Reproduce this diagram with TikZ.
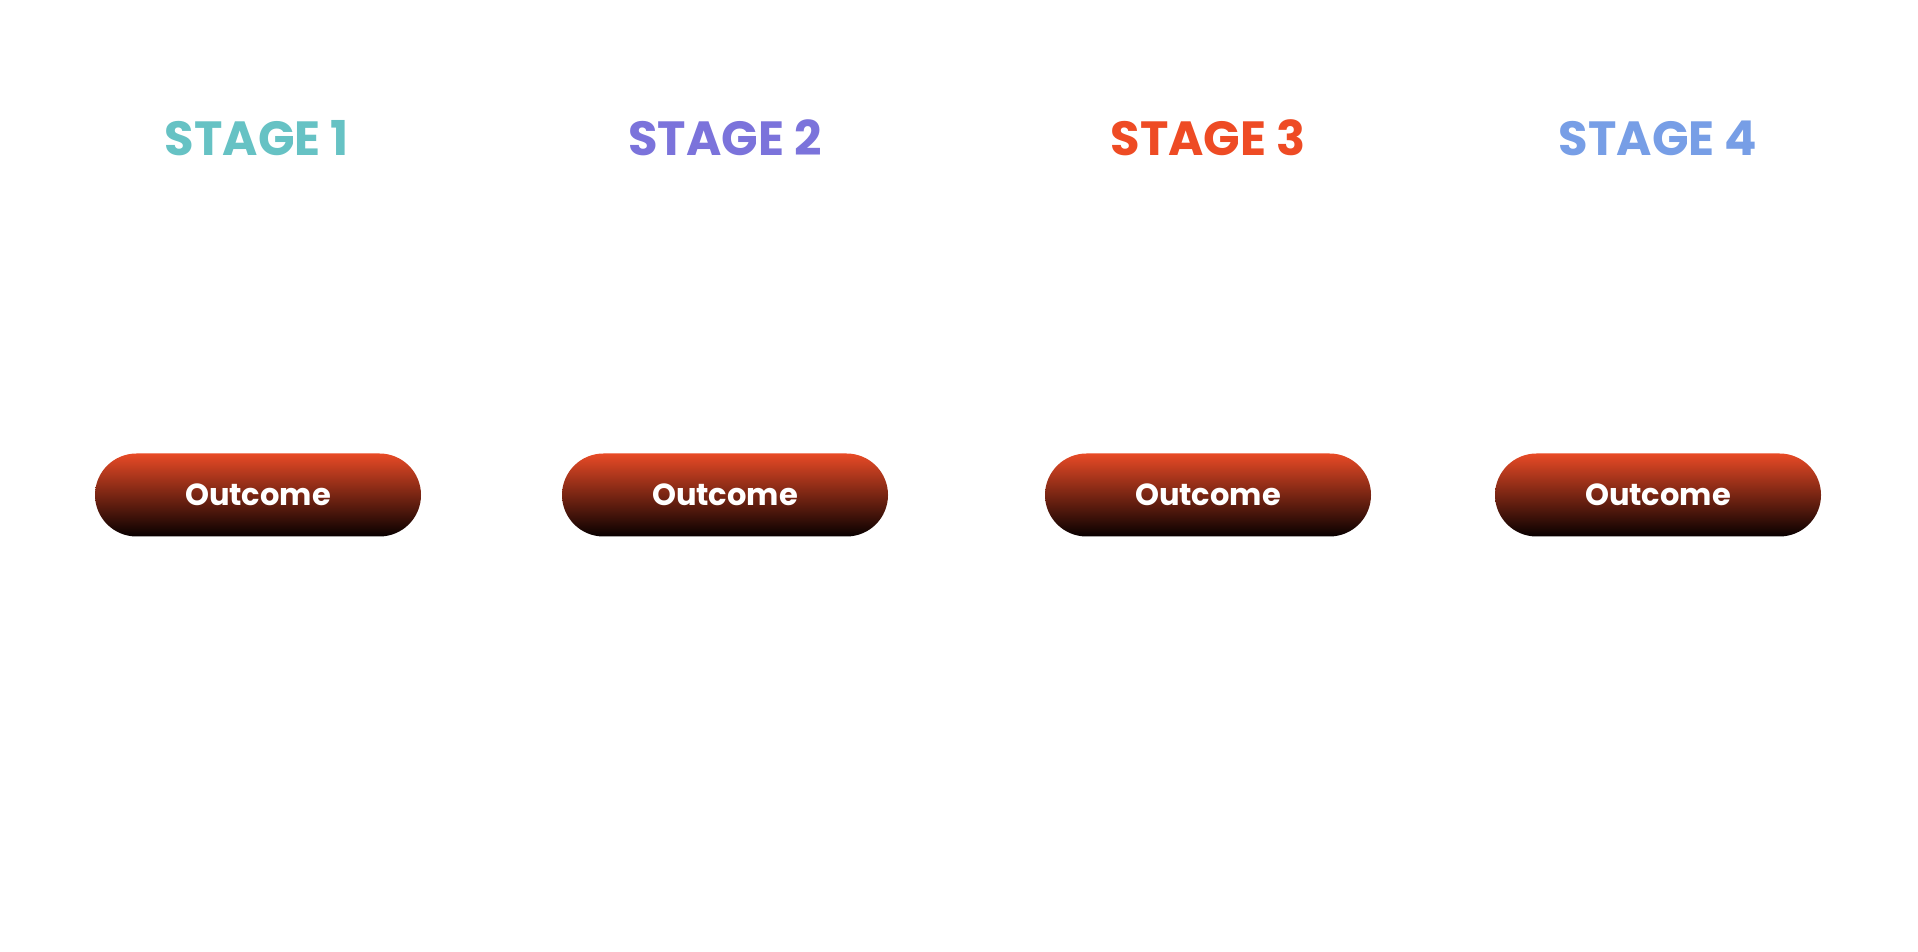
\documentclass[tikz,border=0pt]{standalone}
\usepackage{fontspec}
\setmainfont{Poppins}
\usepackage{tikz}
\usetikzlibrary{shapes,positioning}

\definecolor{stageone}{HTML}{66C2C4}
\definecolor{stagetwo}{HTML}{7B73DB}
\definecolor{stagethree}{HTML}{EE4B24}
\definecolor{stagefour}{HTML}{779EE6}
\definecolor{pilltop}{HTML}{E84A26}
\definecolor{pillbottom}{HTML}{080000}

\begin{document}
\begin{tikzpicture}[
    x=1pt, y=1pt,
    stage/.style={anchor=base, font=\fontsize{48}{52}\selectfont\bfseries, inner sep=0pt},
    outcome/.style={rounded corners=41.5pt, minimum width=326pt, minimum height=83pt,
        top color=pilltop, bottom color=pillbottom, text=white, inner sep=0pt,
        font=\fontsize{30.5}{33}\selectfont\bfseries}
]
\useasboundingbox[fill=white] (0,0) rectangle (1918,952);

% Stage headings
\node[stage, text=stageone] (s1) at (257,796) {STAGE 1};
\node[stage, text=stagetwo] (s2) at (725,796) {STAGE 2};
\node[stage, text=stagethree] (s3) at (1208,796) {STAGE 3};
\node[stage, text=stagefour] (s4) at (1658,796) {STAGE 4};

% Outcome pills
\node[outcome] (o1) at (258,457) {Outcome};
\node[outcome] (o2) at (725,457) {Outcome};
\node[outcome] (o3) at (1208,457) {Outcome};
\node[outcome] (o4) at (1658,457) {Outcome};

\end{tikzpicture}
\end{document}
